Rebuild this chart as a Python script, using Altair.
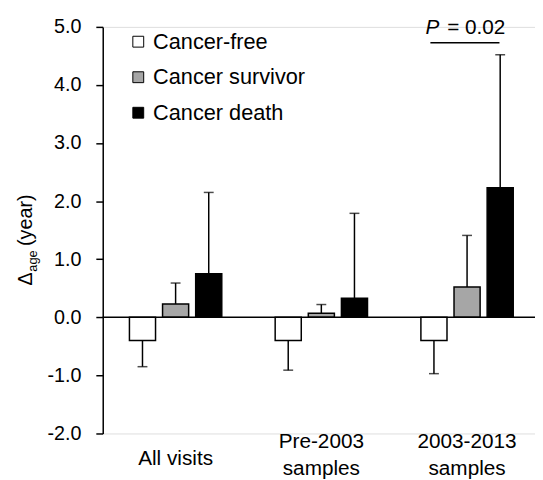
import altair as alt
import pandas as pd

groups = ["All visits", "Pre-2003 samples", "2003-2013 samples"]
label_line1 = ["", "Pre-2003", "2003-2013"]
label_line2 = ["", "samples", "samples"]
label_single = ["All visits", "", ""]
series = ["Cancer-free", "Cancer survivor", "Cancer death"]
colors = ["#ffffff", "#a6a6a6", "#000000"]
means = {
    "Cancer-free": [-0.40, -0.40, -0.40],
    "Cancer survivor": [0.23, 0.07, 0.52],
    "Cancer death": [0.75, 0.33, 2.23],
}
err_ends = {
    "Cancer-free": [-0.85, -0.91, -0.97],
    "Cancer survivor": [0.59, 0.22, 1.41],
    "Cancer death": [2.15, 1.79, 4.52],
}
y_ticks = [-2, -1, 0, 1, 2, 3, 4, 5]

rows = []
for s in series:
    for i, g in enumerate(groups):
        rows.append({"group": g, "series": s, "mean": means[s][i], "end": err_ends[s][i], "zero": 0})
df = pd.DataFrame(rows)
labels_df = pd.DataFrame({"group": groups, "l1": label_line1, "l2": label_line2, "single": label_single})

FONT = "Liberation Sans"
W, H = 438, 412

xscale = alt.Scale(domain=groups, range=[0, 443], paddingInner=0, paddingOuter=0)
x = alt.X("group:N", sort=groups, scale=xscale, axis=None)
xo = alt.XOffset("series:N", sort=series, scale=alt.Scale(paddingInner=0.212, paddingOuter=0.806))
yscale = alt.Scale(domain=[-2, 5], nice=False, zero=False)

base = alt.Chart(df)

bars = base.mark_bar(stroke="#000", strokeWidth=1.5).encode(
    x=x, xOffset=xo,
    y=alt.Y("mean:Q", scale=yscale,
            axis=alt.Axis(title=None, values=y_ticks, grid=False, tickSize=7,
                          labelExpr="replace(format(datum.value, '.1f'), '\u2212', '-')",
                          labelFontSize=20, labelFont=FONT, labelColor="#000",
                          labelPadding=15, domainColor="#000", domainWidth=1.5,
                          tickColor="#000", tickWidth=1.5)),
    y2="zero:Q",
    fill=alt.Fill("series:N", sort=series,
                  scale=alt.Scale(domain=series, range=colors),
                  legend=alt.Legend(title=None, orient="none", legendX=25, legendY=4,
                                    symbolType="square", symbolSize=121,
                                    symbolStrokeColor="#000", symbolStrokeWidth=1,
                                    labelFontSize=22, labelFont=FONT, labelColor="#000",
                                    labelOffset=4, rowPadding=14, padding=0)),
)

err = base.mark_rule(color="#000", strokeWidth=1.5).encode(
    x=x, xOffset=xo, y=alt.Y("mean:Q", scale=yscale), y2="end:Q")
caps = base.mark_tick(color="#000", thickness=1.5, size=10).encode(
    x=x, xOffset=xo, y=alt.Y("end:Q", scale=yscale))

zero_line = alt.Chart(pd.DataFrame({"y": [0]})).mark_rule(color="#000", strokeWidth=1.5).encode(
    y=alt.Y("y:Q", scale=yscale))

lab = alt.Chart(labels_df)
lab_single = lab.mark_text(font=FONT, fontSize=21, baseline="middle", color="#000").encode(
    x=x, y=alt.value(438), text="single:N")
lab_l1 = lab.mark_text(font=FONT, fontSize=21, baseline="middle", color="#000").encode(
    x=x, y=alt.value(421), text="l1:N")
lab_l2 = lab.mark_text(font=FONT, fontSize=21, baseline="middle", color="#000").encode(
    x=x, y=alt.value(448), text="l2:N")

ann = pd.DataFrame({"t": [0]})
p_italic = alt.Chart(ann).mark_text(text="P", font=FONT, fontSize=21, fontStyle="italic",
                                   align="left", baseline="middle", color="#000").encode(
    x=alt.value(327), y=alt.value(1))
p_rest = alt.Chart(ann).mark_text(text="= 0.02", font=FONT, fontSize=21,
                                 align="left", baseline="middle", color="#000").encode(
    x=alt.value(349), y=alt.value(1))
p_line = alt.Chart(ann).mark_rule(color="#000", strokeWidth=1.5).encode(
    x=alt.value(332), x2=alt.value(402), y=alt.value(16))

t_delta = alt.Chart(ann).mark_text(text="\u0394", font=FONT, fontSize=20, angle=270,
                                  align="left", baseline="alphabetic", color="#000").encode(
    x=alt.value(-72), y=alt.value(262))
t_age = alt.Chart(ann).mark_text(text="age", font=FONT, fontSize=13, angle=270,
                                align="left", baseline="alphabetic", color="#000").encode(
    x=alt.value(-67), y=alt.value(248))
t_year = alt.Chart(ann).mark_text(text="(year)", font=FONT, fontSize=20, angle=270,
                                 align="left", baseline="alphabetic", color="#000").encode(
    x=alt.value(-72), y=alt.value(222))

chart = alt.layer(bars, err, caps, zero_line, lab_single, lab_l1, lab_l2,
                  p_italic, p_rest, p_line, t_delta, t_age, t_year).properties(
    width=W, height=H,
    autosize=alt.AutoSizeParams(type="none"),
    padding={"top": 16, "left": 96, "right": 0, "bottom": 44}
).configure_view(stroke=None).configure(font=FONT)

chart.save("out.html", embed_options={"renderer": "svg", "actions": False})
